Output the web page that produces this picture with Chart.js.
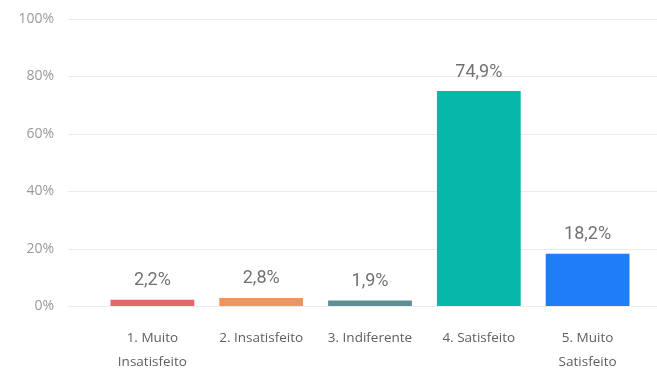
<!DOCTYPE html>
<html>
<head>
<meta charset="utf-8">
<script src="https://cdn.jsdelivr.net/npm/chart.js@4/dist/chart.umd.min.js"></script>
<style>
  html, body { margin: 0; padding: 0; background: #fff; }
  #wrap { width: 657px; height: 371px; }
</style>
</head>
<body>
<div id="wrap"><canvas id="satisfacao"></canvas></div>
<script>
// categorias e percentuais
const categorias = [
  ["1. Muito", "Insatisfeito"],
  "2. Insatisfeito",
  "3. Indiferente",
  "4. Satisfeito",
  ["5. Muito", "Satisfeito"]
];
const percentuais = [2.2, 2.8, 1.9, 74.9, 18.2];
const coresBarras = ["#E8636A", "#F0955A", "#5E8E96", "#06B8A7", "#1E7EF7"];
const ticksY = [0, 20, 40, 60, 80, 100];

const fmt = (v) => v.toFixed(1).replace(".", ",") + "%";

// linhas de grade que passam além da área do gráfico
const gradeLarga = {
  id: "gradeLarga",
  beforeDatasetsDraw(chart) {
    const { ctx, scales } = chart;
    ctx.save();
    ctx.strokeStyle = "#EBEBEB";
    ctx.lineWidth = 1;
    ticksY.forEach((t) => {
      const y = Math.round(scales.y.getPixelForValue(t)) + 0.5;
      ctx.beginPath();
      ctx.moveTo(68, y);
      ctx.lineTo(chart.width, y);
      ctx.stroke();
    });
    ctx.restore();
  }
};

// rótulos de valor acima das barras
const rotulosValor = {
  id: "rotulosValor",
  afterDatasetsDraw(chart) {
    const { ctx } = chart;
    const meta = chart.getDatasetMeta(0);
    ctx.save();
    ctx.font = "18px Roboto";
    ctx.fillStyle = "#727272";
    ctx.textAlign = "center";
    ctx.textBaseline = "middle";
    meta.data.forEach((bar, i) => {
      ctx.fillText(fmt(percentuais[i]), bar.x, bar.y - 19);
    });
    ctx.restore();
  }
};

new Chart(document.getElementById("satisfacao"), {
  type: "bar",
  data: {
    labels: categorias,
    datasets: [
      {
        data: percentuais,
        backgroundColor: coresBarras,
        borderWidth: 0,
        barPercentage: 0.77,
        categoryPercentage: 1.0
      }
    ]
  },
  options: {
    responsive: true,
    maintainAspectRatio: false,
    animation: false,
    layout: { padding: { top: 19, right: 15, left: 0, bottom: 0 } },
    plugins: {
      legend: { display: false },
      tooltip: { enabled: false }
    },
    scales: {
      y: {
        min: 0,
        max: 100,
        afterFit: (scale) => {
          scale.width = 98;
          scale.paddingTop = 0;
          scale.paddingBottom = 0;
        },
        afterBuildTicks: (scale) => {
          scale.ticks = ticksY.map((v) => ({ value: v }));
        },
        grid: { display: false, drawTicks: false },
        border: { display: false },
        ticks: {
          padding: 44,
          color: "#9A9A9A",
          font: { family: "Open Sans", size: 14 },
          callback: (v) => v + "%"
        }
      },
      x: {
        afterFit: (scale) => { scale.height = 65; },
        grid: { display: false, drawTicks: false },
        border: { display: false },
        ticks: {
          padding: 20,
          color: "#5E5E5E",
          maxRotation: 0,
          autoSkip: false,
          font: { family: "Open Sans", size: 13.5, lineHeight: 1.8 }
        }
      }
    }
  },
  plugins: [gradeLarga, rotulosValor]
});
</script>
</body>
</html>
